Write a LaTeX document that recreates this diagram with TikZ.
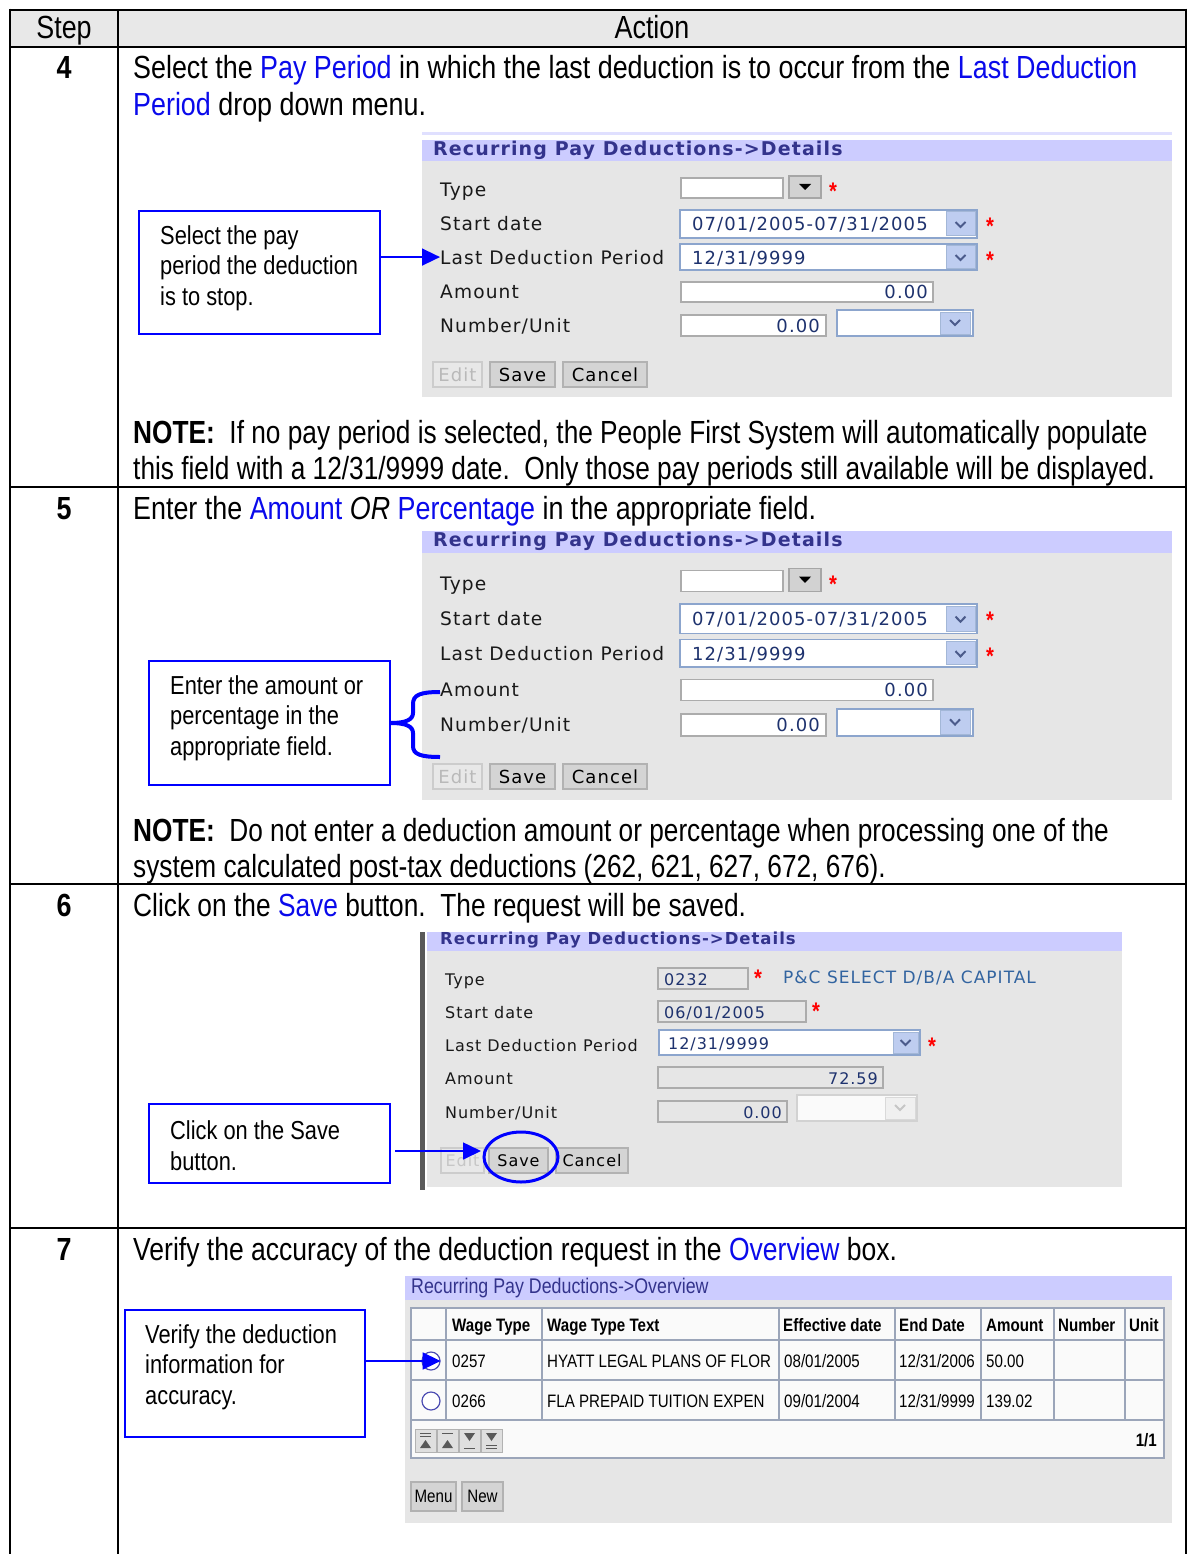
\documentclass[tikz,border=0pt]{standalone}
\usepackage{graphicx}
\usepackage{fontspec}
\setmainfont{Liberation Sans}[FakeStretch=0.84]
\newfontfamily\uif{DejaVu Sans}[LetterSpace=6]
\usetikzlibrary{arrows.meta}
\definecolor{hlblue}{RGB}{10,10,235}
\definecolor{calblue}{RGB}{0,0,255}
\definecolor{lav}{RGB}{204,204,255}
\definecolor{uibg}{RGB}{230,230,230}
\definecolor{titletext}{RGB}{51,51,140}
\definecolor{navy}{RGB}{30,50,110}
\definecolor{ddborder}{RGB}{140,165,205}
\definecolor{ddbtn}{RGB}{190,205,240}
\definecolor{btngray}{RGB}{212,212,212}
\definecolor{hdrgray}{RGB}{232,232,232}
\definecolor{capblue}{RGB}{50,100,160}
\definecolor{tblborder}{RGB}{155,165,185}
\newcommand\hl[1]{\textcolor{hlblue}{#1}}
\newcommand\sqz[2]{\scalebox{#1}[1]{#2}}
\tikzset{
 grid/.style={line width=2.5pt, draw=black},
 txt/.style={anchor=base west, inner sep=0, font=\fontsize{32}{37}\selectfont},
 hdr/.style={anchor=base, inner sep=0, font=\fontsize{32}{37}\selectfont},
 stepno/.style={anchor=base, inner sep=0, font=\bfseries\fontsize{32}{37}\selectfont},
 callout/.style={draw=calblue, line width=1.8pt, fill=white, inner sep=0},
 caltext/.style={anchor=west, inner sep=0, align=left, font=\fontsize{26}{30.5}\selectfont},
 arr/.style={draw=calblue, line width=1.6pt, -{Triangle[length=18pt,width=17pt]}},
 brace/.style={draw=calblue, line width=4pt},
 uilab/.style={anchor=base west, inner sep=0, font=\uif\fontsize{18.6}{20}\selectfont, text=black!90},
 uilabs/.style={anchor=base west, inner sep=0, font=\uif\fontsize{16}{18}\selectfont, text=black!90},
 uititle/.style={anchor=west, inner sep=0, font=\uif\bfseries\fontsize{19}{20}\selectfont, text=titletext},
 uititles/.style={anchor=west, inner sep=0, font=\uif\bfseries\fontsize{16.5}{18}\selectfont, text=titletext},
 uival/.style={anchor=base west, inner sep=0, font=\uif\fontsize{18}{20}\selectfont, text=navy},
 uivals/.style={anchor=base west, inner sep=0, font=\uif\fontsize{16}{18}\selectfont, text=navy},
 uinum/.style={anchor=base east, inner sep=0, font=\uif\fontsize{18}{20}\selectfont, text=navy},
 uinums/.style={anchor=base east, inner sep=0, font=\uif\fontsize{16}{18}\selectfont, text=navy},
 uibox/.style={draw=gray!65, fill=white, line width=1.5pt},
 ddbox/.style={draw=ddborder, fill=white, line width=1.5pt},
 ddb/.style={draw=ddborder!80, fill=ddbtn, line width=1pt},
 uibtn/.style={draw=gray!60, fill=btngray, line width=1.5pt, inner sep=0, font=\uif\fontsize{18}{20}\selectfont},
 uibtns/.style={draw=gray!60, fill=btngray, line width=1.5pt, inner sep=0, font=\uif\fontsize{16}{18}\selectfont},
 star/.style={inner sep=0, text=red, font=\bfseries\fontsize{24}{24}\selectfont},
 tbl/.style={anchor=base west, inner sep=0, font=\fontsize{18}{20}\selectfont},
 tblb/.style={anchor=base west, inner sep=0, font=\bfseries\fontsize{18}{20}\selectfont},
 navbtn/.style={draw=gray!60, fill=gray!25, line width=1pt},
}
\newcommand\chev[3]{\draw[line width=2pt, draw=#3] (#1,#2) ++(-5,-2) -- ++(5,5) -- ++(5,-5);}
\newcommand\detailsui[1]{%
 \fill[lav] (422,-10) rectangle (1172,11);
 \fill[uibg] (422,11) rectangle (1172,247);
 \node[uititle] (#1title) at (433,0) {Recurring Pay Deductions->Details};
 \node[uilab] (#1l1) at (440,47) {Type};
 \node[uilab] (#1l2) at (440,81) {Start date};
 \node[uilab] (#1l3) at (440,114) {Last Deduction Period};
 \node[uilab] (#1l4) at (440,148) {Amount};
 \node[uilab] (#1l5) at (440,182) {Number/Unit};
 \draw[uibox] (681,28) rectangle (783,48);
 \draw[draw=gray!70, fill=gray!35, line width=1.5pt] (789,26) rectangle (821,48);
 \fill[black] (799,34) -- (811,34) -- (805,40) -- cycle;
 \node[star] (#1s1) at (833,41) {*};
 \draw[ddbox] (680,60) rectangle (977,88);
 \node[uival] (#1v2) at (692,81) {07/01/2005-07/31/2005};
 \draw[ddb] (946,62) rectangle (975,86);
 \chev{960.5}{74}{navy!80}
 \node[star] (#1s2) at (990,76) {*};
 \draw[ddbox] (680,94) rectangle (977,120);
 \node[uival] (#1v3) at (692,114) {12/31/9999};
 \draw[ddb] (946,96) rectangle (975,118);
 \chev{960.5}{107}{navy!80}
 \node[star] (#1s3) at (990,110) {*};
 \draw[uibox] (681,132) rectangle (933,152);
 \node[uinum] (#1v4) at (928,148) {0.00};
 \draw[uibox] (681,165) rectangle (826,186);
 \node[uinum] (#1v5) at (820,182) {0.00};
 \draw[ddbox] (837,160) rectangle (973,186);
 \draw[ddb] (940,162) rectangle (970,184);
 \chev{955}{172}{navy!80}
 \node[uibtn, draw=gray!40, fill=gray!18, text=gray!55, minimum width=49pt, minimum height=25pt] (#1edit) at (457.5,224.5) {Edit};
 \node[uibtn, minimum width=65pt, minimum height=25pt] (#1save) at (522.5,224.5) {Save};
 \node[uibtn, minimum width=84pt, minimum height=25pt] (#1cancel) at (605,224.5) {Cancel};
}
\begin{document}
\begin{tikzpicture}[x=1pt,y=-1pt]
\useasboundingbox (0,0) rectangle (1191,1554);
\fill[white] (0,0) rectangle (1191,1554);
\fill[hdrgray] (10,10) rectangle (1186,47);

% ---------- step 4 ----------
\node[stepno] (n4) at (64,79) {4};
\node[txt] (t4a) at (133,79) {Select the \hl{Pay Period} in which the last deduction is to occur from the \hl{Last Deduction}};
\node[txt] (t4b) at (133,116) {\hl{Period} drop down menu.};
\fill[lav!60] (422,132) rectangle (1172,135);
\begin{scope}[shift={(0,150)}]
 \detailsui{a}
\end{scope}
\node[callout, minimum width=241pt, minimum height=123pt] (c1) at (259.5,272.5) {};
\node[caltext] (c1t) at (160,268) {Select the pay\\period the deduction\\is to stop.};
\draw[arr] (c1.east |- al3.west) -- (al3.west);
\node[txt] (t4c) at (133,443) {\sqz{0.977}{\textbf{NOTE:}\ \ If no pay period is selected, the People First System will automatically populate}};
\node[txt] (t4d) at (133,479) {\sqz{0.977}{this field with a 12/31/9999 date.\ \ Only those pay periods still available will be displayed.}};

% ---------- step 5 ----------
\node[stepno] (n5) at (64,519) {5};
\node[txt] (t5a) at (133,519) {Enter the \hl{Amount} \textit{OR} \hl{Percentage} in the appropriate field.};
\begin{scope}[shift={(0,541)}, yscale=1.049]
 \detailsui{b}
\end{scope}
\node[callout, minimum width=241pt, minimum height=124pt] (c2) at (269.5,723) {};
\node[caltext] (c2t) at (170,718) {Enter the amount or\\percentage in the\\appropriate field.};
\coordinate (brtop) at (440,692);
\coordinate (brbot) at (440,757);
\draw[brace] (brtop) .. controls (420,692) and (413,695) .. (413,704) -- (413,713) .. controls (413,720) and (405,723) .. (c2.east) .. controls (405,723) and (413,726) .. (413,733) -- (413,746) .. controls (413,754) and (420,757) .. (brbot);
\node[txt] (t5c) at (133,841) {\sqz{0.976}{\textbf{NOTE:}\ \ Do not enter a deduction amount or percentage when processing one of the}};
\node[txt] (t5d) at (133,877) {\sqz{0.976}{system calculated post-tax deductions (262, 621, 627, 672, 676).}};

% ---------- step 6 ----------
\node[stepno] (n6) at (64,916) {6};
\node[txt] (t6a) at (133,916) {\sqz{0.979}{Click on the \hl{Save} button.\ \ The request will be saved.}};
\fill[gray!70!black] (420,932) rectangle (425,1190);
\fill[lav] (427,932) rectangle (1122,951);
\fill[uibg] (427,951) rectangle (1122,1187);
\node[uititles] (ctitle) at (440,940) {Recurring Pay Deductions->Details};
\node[uilabs] (cl1) at (445,985) {Type};
\node[uilabs] (cl2) at (445,1018) {Start date};
\node[uilabs] (cl3) at (445,1051) {Last Deduction Period};
\node[uilabs] (cl4) at (445,1084) {Amount};
\node[uilabs] (cl5) at (445,1118) {Number/Unit};
\draw[draw=gray!65, fill=uibg, line width=1.5pt] (658,968) rectangle (748,989);
\node[uivals] (cv1) at (664,985) {0232};
\node[star] (cs1) at (758,978) {*};
\node[uilabs, text=capblue, font=\uif\fontsize{17}{18}\selectfont] (cv1t) at (783,983) {P\&C SELECT D/B/A CAPITAL};
\draw[draw=gray!65, fill=uibg, line width=1.5pt] (658,1001) rectangle (806,1022);
\node[uivals] (cv2) at (664,1018) {06/01/2005};
\node[star] (cs2) at (816,1011) {*};
\draw[ddbox] (659,1030) rectangle (920,1055);
\node[uivals] (cv3) at (668,1049) {12/31/9999};
\draw[ddb] (893,1032) rectangle (918,1053);
\chev{905.5}{1042}{navy!80}
\node[star] (cs3) at (932,1046) {*};
\draw[draw=gray!65, fill=uibg, line width=1.5pt] (658,1067) rectangle (883,1088);
\node[uinums] (cv4) at (878,1084) {72.59};
\draw[draw=gray!65, fill=uibg, line width=1.5pt] (658,1101) rectangle (787,1122);
\node[uinums] (cv5) at (782,1118) {0.00};
\draw[draw=gray!35, fill=white!96!gray, line width=1.5pt] (797,1095) rectangle (917,1121);
\draw[draw=gray!30, fill=gray!12, line width=1pt] (885,1097) rectangle (915,1119);
\chev{900}{1107}{gray!45}
\node[uibtns, draw=gray!40, fill=gray!18, text=gray!45, minimum width=43pt, minimum height=25pt] (cedit) at (462.5,1160.5) {Edit};
\node[uibtns, minimum width=59pt, minimum height=25pt] (csave) at (518.5,1160.5) {Save};
\node[uibtns, minimum width=72pt, minimum height=25pt] (ccancel) at (592,1160.5) {Cancel};
\draw[draw=calblue, line width=3pt] (521,1157) ellipse [x radius=37pt, y radius=25pt];
\node[callout, minimum width=241pt, minimum height=79pt] (c3) at (269.5,1143.5) {};
\node[caltext] (c3t) at (170,1145.5) {Click on the Save\\button.};
\coordinate (a3s) at (395,1151);
\coordinate (a3e) at (481,1151);
\draw[arr] (a3s) -- (a3e);

% ---------- step 7 ----------
\node[stepno] (n7) at (64,1260) {7};
\node[txt] (t7a) at (133,1260) {\sqz{0.987}{Verify the accuracy of the deduction request in the \hl{Overview} box.}};
\fill[lav] (405,1276) rectangle (1172,1300);
\fill[uibg] (405,1300) rectangle (1172,1523);
\node[anchor=west, inner sep=0, font=\fontsize{21.2}{22}\selectfont, text=titletext] (otitle) at (411,1288) {Recurring Pay Deductions->Overview};
\draw[draw=tblborder, fill=white!96!gray, line width=1.5pt] (411,1308) rectangle (1164,1458);
\foreach \yy in {1340,1380,1420} \draw[draw=tblborder, line width=1.5pt] (411,\yy) -- (1164,\yy);
\foreach \xx in {446,542,779,895,981,1054,1125} \draw[draw=tblborder, line width=1.5pt] (\xx,1308) -- (\xx,1420);
\node[tblb] (h1) at (452,1331) {Wage Type};
\node[tblb] (h2) at (547,1331) {Wage Type Text};
\node[tblb] (h3) at (783,1331) {Effective date};
\node[tblb] (h4) at (899,1331) {End Date};
\node[tblb] (h5) at (986,1331) {Amount};
\node[tblb] (h6) at (1058,1331) {Number};
\node[tblb] (h7) at (1129,1331) {Unit};
\node[draw=gray!60!blue, fill=white, circle, minimum size=18pt, inner sep=0, line width=1.2pt] (r1) at (431,1361) {};
\node[tbl] (d11) at (452,1367) {0257};
\node[tbl] (d12) at (547,1367) {HYATT LEGAL PLANS OF FLOR};
\node[tbl] (d13) at (784,1367) {08/01/2005};
\node[tbl] (d14) at (899,1367) {12/31/2006};
\node[tbl] (d15) at (986,1367) {50.00};
\node[draw=gray!60!blue, fill=white, circle, minimum size=18pt, inner sep=0, line width=1.2pt] (r2) at (431,1401) {};
\node[tbl] (d21) at (452,1407) {0266};
\node[tbl] (d22) at (547,1407) {FLA PREPAID TUITION EXPEN};
\node[tbl] (d23) at (784,1407) {09/01/2004};
\node[tbl] (d24) at (899,1407) {12/31/9999};
\node[tbl] (d25) at (986,1407) {139.02};
% navigation icons
\draw[navbtn] (415,1429) rectangle (436,1452);
\draw[navbtn] (437,1429) rectangle (458,1452);
\draw[navbtn] (459,1429) rectangle (480,1452);
\draw[navbtn] (481,1429) rectangle (502,1452);
\draw[gray!70!black, line width=1pt] (420,1433) -- (431,1433) (420,1436) -- (431,1436);
\fill[gray!70!black] (420,1448) -- (431,1448) -- (425.5,1440) -- cycle;
\draw[gray!70!black, line width=1pt] (442,1433) -- (453,1433);
\fill[gray!70!black] (442,1448) -- (453,1448) -- (447.5,1440) -- cycle;
\fill[gray!70!black] (464,1433) -- (475,1433) -- (469.5,1441) -- cycle;
\draw[gray!70!black, line width=1pt] (464,1448) -- (475,1448);
\fill[gray!70!black] (486,1433) -- (497,1433) -- (491.5,1441) -- cycle;
\draw[gray!70!black, line width=1pt] (486,1445) -- (497,1445) (486,1448) -- (497,1448);
\node[anchor=base east, inner sep=0, font=\bfseries\fontsize{18}{20}\selectfont] (pg) at (1157,1446) {1/1};
\node[draw=gray!60, fill=btngray, line width=1.5pt, inner sep=0, minimum width=45pt, minimum height=29pt, font=\fontsize{18}{20}\selectfont] (bmenu) at (433.5,1496.5) {Menu};
\node[draw=gray!60, fill=btngray, line width=1.5pt, inner sep=0, minimum width=41pt, minimum height=29pt, font=\fontsize{18}{20}\selectfont] (bnew) at (482.5,1496.5) {New};
\node[callout, minimum width=240pt, minimum height=127pt] (c4) at (245,1373.5) {};
\node[caltext] (c4t) at (145,1367) {Verify the deduction\\information for\\accuracy.};
\draw[arr] (c4.east |- r1.center) -- (r1.east);

% ---------- table grid ----------
\draw[grid] (10,10) -- (1186,10);
\draw[grid] (10,47) -- (1186,47);
\draw[grid] (10,487) -- (1186,487);
\draw[grid] (10,884) -- (1186,884);
\draw[grid] (10,1228) -- (1186,1228);
\draw[grid] (10,8.75) -- (10,1554);
\draw[grid] (118,10) -- (118,1554);
\draw[grid] (1186,8.75) -- (1186,1554);
\node[hdr] (hstep) at (64,39) {Step};
\node[hdr] (haction) at (652,39) {Action};
\end{tikzpicture}
\end{document}
